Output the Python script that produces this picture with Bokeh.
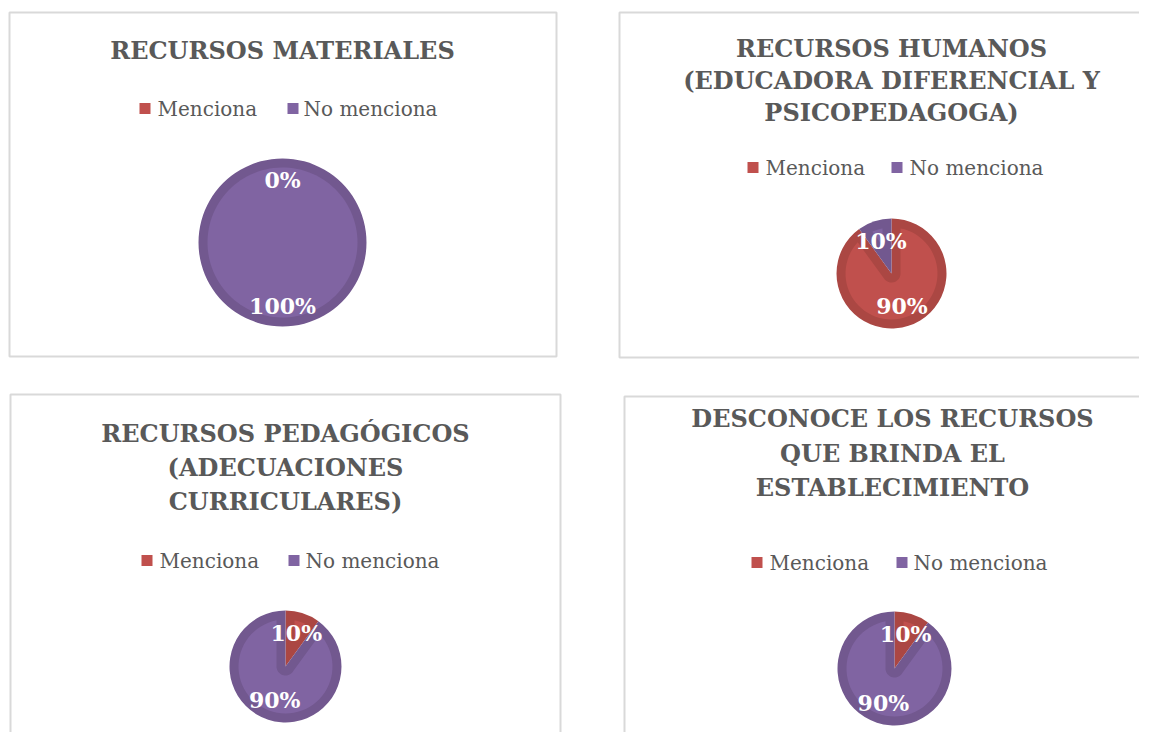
import numpy as np
from bokeh.plotting import figure
from bokeh.models import Range1d, ColumnDataSource
from bokeh.core.properties import value
from bokeh.embed import file_html
from bokeh.resources import INLINE

# ---------------- data ----------------
titles = [
    ["RECURSOS MATERIALES"],
    ["RECURSOS HUMANOS", "(EDUCADORA DIFERENCIAL Y", "PSICOPEDAGOGA)"],
    ["RECURSOS PEDAGÓGICOS", "(ADECUACIONES", "CURRICULARES)"],
    ["DESCONOCE LOS RECURSOS", "QUE BRINDA EL", "ESTABLECIMIENTO"],
]
categories = ["Menciona", "No menciona"]
menciona = [0, 90, 10, 10]
no_menciona = [100, 10, 90, 90]

# ---------------- styles ----------------
fill_colors = ["#C0504D", "#8064A2"]
dark_colors = ["#AB4743", "#72588F"]
TITLE_COLOR = "#595959"
SERIF = "DejaVu Serif"

W, H = 1139, 732


def px(X):
    return X


def py(Y):
    return H - Y


# layout (reference pixel coordinates)
panels = [
    dict(box=(9, 12, 556, 356), center=(282, 242), r=84,
         tx=282, ty=[50], ly=108, sq=[144.5, 292.5], tl=[157, 303]),
    dict(box=(619, 12, 1175, 357), center=(891, 273), r=55,
         tx=891, ty=[48, 80, 112], ly=167, sq=[752.5, 896.5], tl=[765, 909]),
    dict(box=(10, 394, 560, 770), center=(285, 666), r=56,
         tx=285, ty=[433, 467, 501], ly=560, sq=[146.5, 293.5], tl=[159, 305]),
    dict(box=(624, 396, 1175, 770), center=(894, 668), r=57,
         tx=892, ty=[418, 453, 487], ly=562, sq=[756.5, 901.5], tl=[769, 913]),
]
BEVEL = 9
LABEL_INSET = 21

p = figure(width=W, height=H, x_range=Range1d(0, W), y_range=Range1d(0, H),
           x_axis_type=None, y_axis_type=None, min_border=0,
           toolbar_location=None, output_backend="svg",
           outline_line_color=None, background_fill_color="white",
           border_fill_color="white")


def inset_poly(cx, cy, r, a0, a1, d):
    """Light inner region of a clockwise slice from a0 to a1 (a1 < a0)."""
    span = a0 - a1
    rr = r - d
    if span >= 2 * np.pi - 1e-9:
        t = np.linspace(0, 2 * np.pi, 120)
        return cx + rr * np.cos(t), cy + rr * np.sin(t)
    delta = np.arcsin(d / rr)
    if span <= 2 * delta:
        return None
    t = np.linspace(a0 - delta, a1 + delta, 60)
    xs = list(cx + rr * np.cos(t))
    ys = list(cy + rr * np.sin(t))
    if span <= np.pi:
        mid = (a0 + a1) / 2
        dist = d / np.sin(span / 2)
        xs.append(cx + dist * np.cos(mid))
        ys.append(cy + dist * np.sin(mid))
    else:
        tt = np.linspace(a1 + np.pi / 2, a0 - np.pi / 2, 30)
        xs += list(cx + d * np.cos(tt))
        ys += list(cy + d * np.sin(tt))
    return np.array(xs), np.array(ys)


for i, lay in enumerate(panels):
    vals = [menciona[i], no_menciona[i]]
    total = float(sum(vals))
    fracs = [v / total for v in vals]
    cum = np.concatenate([[0], np.cumsum(fracs)])
    cx, cy = px(lay["center"][0]), py(lay["center"][1])
    r = lay["r"]

    # panel border
    L, T, R, B = lay["box"]
    p.quad(left=px(L), right=px(R), top=py(T), bottom=py(B),
           fill_color=None, line_color="#D9D9D9", line_width=2)

    # title
    for line, ty in zip(titles[i], lay["ty"]):
        p.text(x=[px(lay["tx"])], y=[py(ty)], text=[line],
               text_font=value(SERIF), text_font_style="bold",
               text_font_size="24px", text_color=TITLE_COLOR,
               text_align="center", text_baseline="middle")

    # legend
    for k, cat in enumerate(categories):
        p.rect(x=[px(lay["sq"][k])], y=[py(lay["ly"])], width=11, height=11,
               fill_color=fill_colors[k], line_color=None)
        p.text(x=[px(lay["tl"][k])], y=[py(lay["ly"])], text=[cat],
               text_font=value(SERIF), text_font_size="20px",
               text_color=TITLE_COLOR, text_align="left",
               text_baseline="middle")

    # slices (clockwise from 12 o'clock)
    starts = np.pi / 2 - 2 * np.pi * cum[:-1]
    ends = np.pi / 2 - 2 * np.pi * np.minimum(cum[1:], cum[:-1] + 0.99999)
    keep = [k for k in range(2) if fracs[k] > 0]
    src = ColumnDataSource(dict(
        x=[cx] * len(keep), y=[cy] * len(keep),
        start=[starts[k] for k in keep], end=[ends[k] for k in keep],
        color=[dark_colors[k] for k in keep]))
    p.wedge(x="x", y="y", radius=r, start_angle="start", end_angle="end",
            direction="clock", fill_color="color", line_color=None,
            source=src)
    for k in keep:
        poly = inset_poly(cx, cy, r, np.pi / 2 - 2 * np.pi * cum[k],
                          np.pi / 2 - 2 * np.pi * cum[k + 1], BEVEL)
        if poly is not None:
            p.patch(x=poly[0], y=poly[1], fill_color=fill_colors[k],
                    line_color=None)

    # data labels
    for k in range(2):
        mid = np.pi / 2 - 2 * np.pi * (cum[k] + cum[k + 1]) / 2
        dist = r - LABEL_INSET
        p.text(x=[cx + dist * np.cos(mid)], y=[cy + dist * np.sin(mid)],
               text=[f"{vals[k]}%"], text_font=value(SERIF),
               text_font_style="bold", text_font_size="22px",
               text_color="white", text_align="center",
               text_baseline="middle")

open("out.html", "w").write(file_html(p, INLINE))
